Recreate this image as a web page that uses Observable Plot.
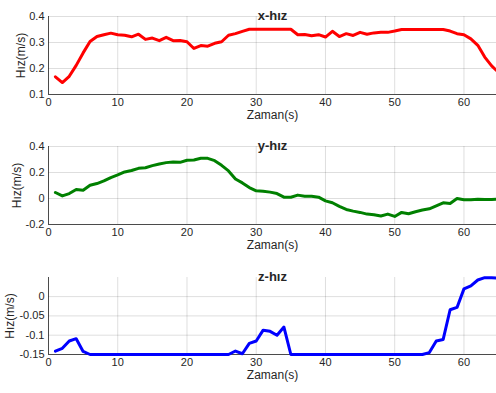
<!DOCTYPE html>
<html><head><meta charset="utf-8">
<script src="https://cdn.jsdelivr.net/npm/d3@7"></script>
<script src="https://cdn.jsdelivr.net/npm/@observablehq/plot@0.6"></script>
<style>body{margin:0;overflow:hidden;background:#fff} svg{display:block}</style>
</head><body><div id="c"></div><script>
const time = [1,2,3,4,5,6,7,8,9,10,11,12,13,14,15,16,17,18,19,20,21,22,23,24,25,26,27,28,29,30,31,32,33,34,35,36,37,38,39,40,41,42,43,44,45,46,47,48,49,50,51,52,53,54,55,56,57,58,59,60,61,62,63,64,65];
const vx = [0.168,0.146,0.170,0.212,0.260,0.304,0.323,0.330,0.336,0.330,0.328,0.322,0.332,0.312,0.317,0.307,0.320,0.307,0.308,0.303,0.277,0.288,0.286,0.297,0.303,0.328,0.334,0.343,0.351,0.351,0.351,0.351,0.351,0.351,0.351,0.330,0.331,0.326,0.330,0.321,0.343,0.323,0.334,0.327,0.339,0.332,0.337,0.339,0.339,0.344,0.350,0.350,0.350,0.350,0.350,0.350,0.350,0.344,0.334,0.330,0.314,0.289,0.244,0.210,0.185];
const vy = [0.046,0.020,0.038,0.069,0.064,0.102,0.115,0.135,0.161,0.181,0.204,0.215,0.232,0.237,0.253,0.266,0.276,0.281,0.278,0.294,0.296,0.309,0.309,0.291,0.255,0.212,0.150,0.120,0.084,0.059,0.056,0.049,0.038,0.010,0.010,0.026,0.018,0.018,0.010,-0.018,-0.033,-0.061,-0.084,-0.097,-0.107,-0.120,-0.125,-0.135,-0.120,-0.138,-0.107,-0.117,-0.102,-0.089,-0.079,-0.056,-0.033,-0.038,0.000,-0.010,-0.010,-0.005,-0.008,-0.008,-0.003];
const vz = [-0.1415,-0.134,-0.115,-0.109,-0.142,-0.15,-0.15,-0.15,-0.15,-0.15,-0.15,-0.15,-0.15,-0.15,-0.15,-0.15,-0.15,-0.15,-0.15,-0.15,-0.15,-0.15,-0.15,-0.15,-0.15,-0.15,-0.141,-0.148,-0.121,-0.115,-0.087,-0.090,-0.100,-0.079,-0.15,-0.15,-0.15,-0.15,-0.15,-0.15,-0.15,-0.15,-0.15,-0.15,-0.15,-0.15,-0.15,-0.15,-0.15,-0.15,-0.15,-0.15,-0.15,-0.15,-0.145,-0.115,-0.111,-0.034,-0.028,0.020,0.028,0.043,0.049,0.049,0.048];
const titles = ["x-hız","y-hız","z-hız"];
const xTicks = [0,10,20,30,40,50,60];
const yTicksX = [0.1,0.2,0.3,0.4];
const yTicksY = [-0.2,0,0.2,0.4];
const yTicksZ = [-0.15,-0.1,-0.05,0];
const xLabel = "Zaman(s)";
const yLabel = "Hız(m/s)";

const panels = [
  {title:titles[0], values:vx, color:"#ff0000", domain:[0.1,0.4], ticks:yTicksX, height:130, mt:16, mb:36, ylx:27},
  {title:titles[1], values:vy, color:"#008000", domain:[-0.2,0.4], ticks:yTicksY, height:130, mt:16, mb:36, ylx:31},
  {title:titles[2], values:vz, color:"#0000ff", domain:[-0.15,0.0495], ticks:yTicksZ, height:133, mt:17, mb:39, ylx:38}
];
const c = document.getElementById("c");
for (const p of panels) {
  const data = time.map((t,i)=>({t, v:p.values[i]}));
  c.appendChild(Plot.plot({
    width:496, height:p.height, marginLeft:48, marginRight:0, marginTop:p.mt, marginBottom:p.mb,
    style:{fontFamily:"'Liberation Sans', Arial, sans-serif", fontSize:"11px", color:"#262626", background:"#fff", overflow:"hidden"},
    x:{domain:[0,64.7]}, y:{domain:p.domain},
    marks:[
      Plot.gridX(xTicks,{stroke:"#000", strokeOpacity:0.13}),
      Plot.gridY(p.ticks,{stroke:"#000", strokeOpacity:0.13}),
      Plot.axisX(xTicks,{tickSize:0, tickPadding:4, label:null, tickFormat:d=>String(d)}),
      Plot.axisY(p.ticks,{tickSize:0, tickPadding:4, label:null, tickFormat:d=>String(d)}),
      Plot.ruleX([0],{stroke:"#262626", strokeWidth:0.8}),
      Plot.ruleY([p.domain[0]],{stroke:"#262626", strokeWidth:0.8}),
      Plot.line(data,{x:"t", y:"v", stroke:p.color, strokeWidth:3, strokeLinejoin:"round"}),
      Plot.text([p.title],{frameAnchor:"top", dy:-6, fontWeight:"bold", fontSize:13}),
      Plot.text([xLabel],{frameAnchor:"bottom", dy:24, fontSize:12}),
      Plot.text([yLabel],{frameAnchor:"left", textAnchor:"middle", dx:-p.ylx, rotate:-90, fontSize:12})
    ]
  }));
}
</script></body></html>
